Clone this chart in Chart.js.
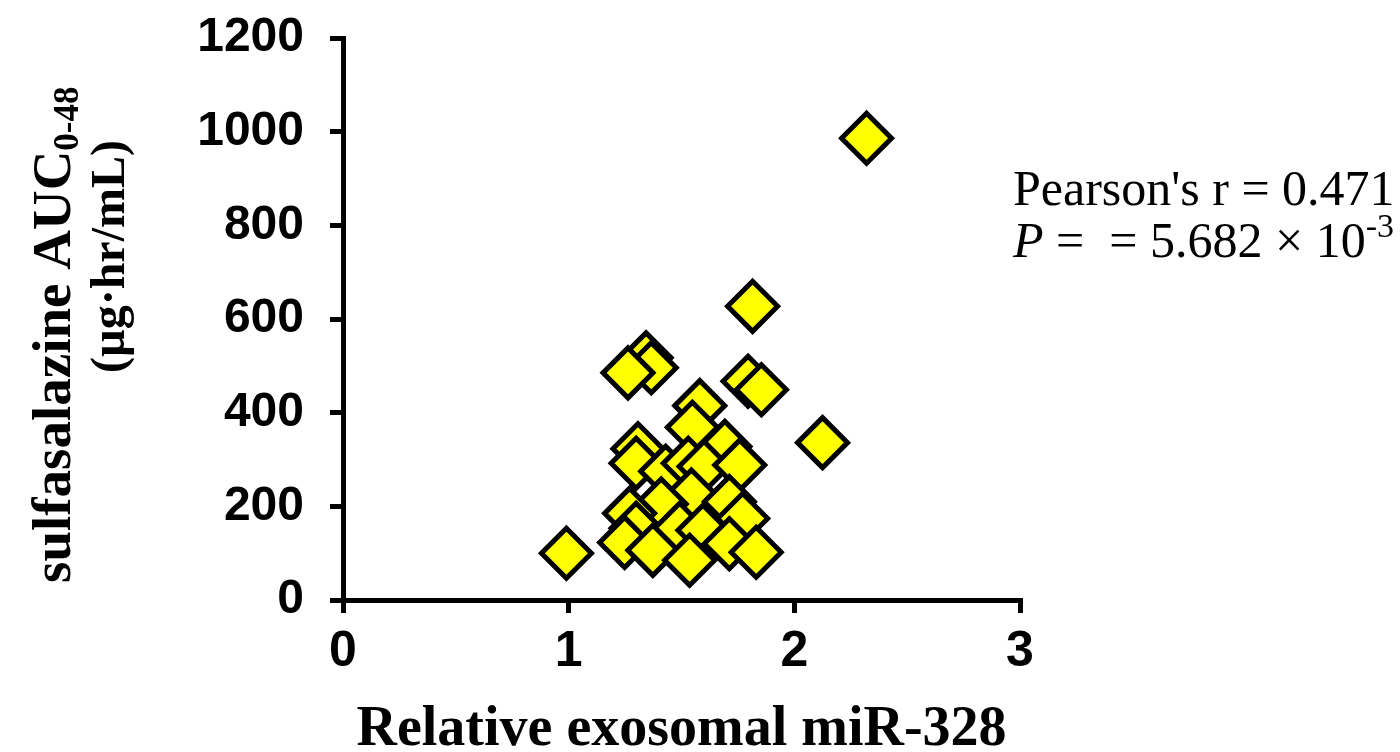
<!DOCTYPE html>
<html>
<head>
<meta charset="utf-8">
<script src="https://cdn.jsdelivr.net/npm/chart.js@4"></script>
<style>
  html, body { margin: 0; padding: 0; background: #fff; }
  #wrap { width: 1400px; height: 752px; }
</style>
</head>
<body>
<div id="wrap"><canvas id="grafico"></canvas></div>
<script>
// relative exosomal miR-328 (x) vs sulfasalazine AUC0-48 (y)
const mir328 = [0.99, 2.32, 1.815, 2.125, 1.343, 1.366, 1.263, 1.795, 1.854, 1.581,
                1.548, 1.692, 1.307, 1.299, 1.43, 1.53, 1.60, 1.758, 1.544, 1.41,
                1.712, 1.27, 1.299, 1.771, 1.492, 1.595, 1.248, 1.373, 1.536, 1.712, 1.831];
const auc = [100, 986, 627, 336, 517, 496, 485, 467, 449, 415,
             369, 328, 323, 292, 275, 292, 285, 288, 224, 205,
             210, 185, 153, 174, 153, 149, 123, 106, 85, 120, 102];
const xTicks = [0, 1, 2, 3];
const yTicks = [0, 200, 400, 600, 800, 1000, 1200];
const pearsonR = '0.471';
const pValue = '5.682';
const pExp = '-3';

const puntos = mir328.map((x, i) => ({ x: x, y: auc[i] }));

// y title with subscript + stats text drawn on the canvas
const textos = {
  id: 'textos',
  afterDraw(chart) {
    const ctx = chart.ctx;
    ctx.save();
    ctx.fillStyle = '#000';
    ctx.textBaseline = 'alphabetic';
    ctx.textAlign = 'left';

    // y title, line 1
    ctx.save();
    ctx.translate(70, 583);
    ctx.rotate(-Math.PI / 2);
    ctx.font = 'bold 55px "Liberation Serif"';
    const t1 = 'sulfasalazine AUC';
    ctx.fillText(t1, 0, 0);
    const w1 = ctx.measureText(t1).width;
    ctx.font = 'bold 35px "Liberation Serif"';
    ctx.fillText('0-48', w1, 8);
    ctx.restore();

    // y title, line 2
    ctx.save();
    ctx.translate(124, 373);
    ctx.rotate(-Math.PI / 2);
    ctx.font = 'bold 48px "Liberation Serif"';
    ctx.fillText('(\u00b5g\u00b7hr/mL)', 0, 0);
    ctx.restore();

    // Pearson text
    let x = 1013;
    ctx.font = '50px "Liberation Serif"';
    ctx.fillText("Pearson's r = " + pearsonR, x, 205);
    ctx.font = 'italic 50px "Liberation Serif"';
    ctx.fillText('P', x, 257);
    x += ctx.measureText('P').width;
    ctx.font = '50px "Liberation Serif"';
    const t2 = ' =  = ' + pValue + ' \u00d7 10';
    ctx.fillText(t2, x, 257);
    x += ctx.measureText(t2).width;
    ctx.font = '34px "Liberation Serif"';
    ctx.fillText(pExp, x, 237);
    ctx.restore();
  }
};

const sinComas = (v) => String(v);

const ctx = document.getElementById('grafico');
new Chart(ctx, {
  type: 'scatter',
  data: {
    datasets: [{
      data: puntos,
      pointStyle: 'rectRot',
      pointRadius: 25,
      pointHoverRadius: 25,
      borderWidth: 5,
      backgroundColor: '#ffff00',
      borderColor: '#000000'
    }]
  },
  options: {
    responsive: true,
    maintainAspectRatio: false,
    animation: false,
    events: [],
    layout: { padding: { left: 0, right: 380, top: 38, bottom: 0 } },
    plugins: { legend: { display: false }, tooltip: { enabled: false } },
    scales: {
      x: {
        type: 'linear',
        min: 0,
        max: 3,
        afterFit: (s) => { s.height = 152; },
        afterBuildTicks: (s) => { s.ticks = xTicks.map(v => ({ value: v })); },
        border: { display: true, color: '#000', width: 5 },
        grid: { drawOnChartArea: false, drawTicks: true, tickLength: 13, color: '#000', lineWidth: 5 },
        ticks: { color: '#000', padding: 9, callback: sinComas, font: { family: '"Liberation Sans"', weight: 'bold', size: 50 } },
        title: {
          display: true,
          text: 'Relative exosomal miR-328',
          color: '#000',
          padding: { top: 0, bottom: 0 },
          font: { family: '"Liberation Serif"', weight: 'bold', size: 56, lineHeight: 0.75 }
        }
      },
      y: {
        type: 'linear',
        min: 0,
        max: 1200,
        afterFit: (s) => { s.width = 343; },
        afterBuildTicks: (s) => { s.ticks = yTicks.map(v => ({ value: v })); },
        border: { display: true, color: '#000', width: 5 },
        grid: { drawOnChartArea: false, drawTicks: true, tickLength: 13, color: '#000', lineWidth: 5 },
        ticks: { color: '#000', padding: 26, callback: sinComas, font: { family: '"Liberation Sans"', weight: 'bold', size: 48, lineHeight: 0.4 } }
      }
    }
  },
  plugins: [textos]
});
</script>
</body>
</html>
